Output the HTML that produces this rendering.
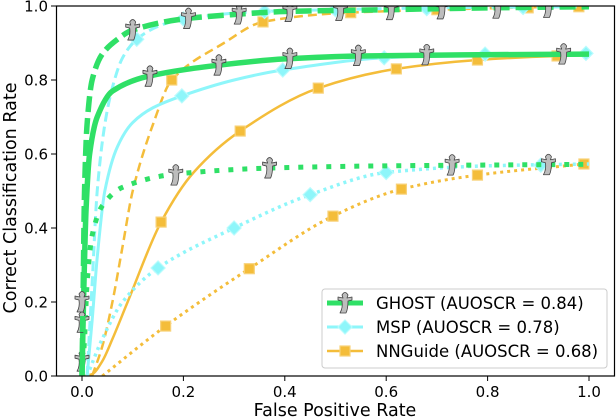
<!DOCTYPE html>
<html><head><meta charset="utf-8"><style>
body{margin:0;background:#fff;}
svg{display:block;font-family:"DejaVu Sans","Liberation Sans",sans-serif;}
</style></head><body>
<svg id="c" width="616" height="420" viewBox="0 0 616 420"></svg>
<script>
const xTicks=[0,0.2,0.4,0.6,0.8,1.0];
const yTicks=[0,0.2,0.4,0.6,0.8,1.0];
// GHOST
const ghostDashX=[0,0.002,0.005,0.01,0.02,0.04,0.07,0.1,0.2,0.3,0.4,0.6,0.8,1];
const ghostDashY=[0,0.2,0.5,0.68,0.8,0.87,0.91,0.935,0.965,0.977,0.985,0.99,0.995,0.998];
const ghostDashMX=[0,0.1,0.21,0.31,0.41,0.51,0.61,0.71,0.82,0.92];
const ghostDashMY=[0.2,0.935,0.966,0.978,0.985,0.988,0.99,0.992,0.994,0.996];
const ghostSolidX=[0,0.003,0.008,0.015,0.03,0.06,0.13,0.27,0.4,0.55,0.75,1];
const ghostSolidY=[0,0.2,0.45,0.6,0.7,0.77,0.81,0.84,0.857,0.865,0.868,0.87];
const ghostSolidMX=[0,0.134,0.27,0.41,0.545,0.68,0.95];
const ghostSolidMY=[0.145,0.81,0.84,0.858,0.866,0.868,0.87];
const ghostDotX=[0,0.005,0.01,0.02,0.04,0.08,0.18,0.37,0.6,1];
const ghostDotY=[0,0.1,0.25,0.38,0.46,0.51,0.545,0.562,0.568,0.572];
const ghostDotMX=[0,0.185,0.37,0.73,0.92];
const ghostDotMY=[0.04,0.543,0.562,0.57,0.571];
// MSP
const mspDashX=[0.01,0.02,0.03,0.045,0.06,0.08,0.108,0.15,0.2,0.35,0.5,0.7,1];
const mspDashY=[0,0.25,0.5,0.68,0.78,0.86,0.91,0.945,0.965,0.985,0.99,0.995,0.998];
const mspDashMX=[0.108,0.2,0.36,0.5,0.68,0.87];
const mspDashMY=[0.91,0.965,0.985,0.99,0.993,0.996];
const mspSolidX=[0.01,0.02,0.03,0.045,0.07,0.1,0.14,0.197,0.3,0.396,0.596,0.795,1];
const mspSolidY=[0,0.15,0.32,0.5,0.62,0.685,0.725,0.757,0.8,0.827,0.86,0.87,0.872];
const mspSolidMX=[0.197,0.396,0.596,0.795,0.994];
const mspSolidMY=[0.757,0.827,0.86,0.87,0.872];
const mspDotX=[0.01,0.04,0.08,0.15,0.3,0.45,0.6,0.8,1];
const mspDotY=[0,0.1,0.2,0.292,0.4,0.49,0.55,0.568,0.573];
const mspDotMX=[0.15,0.3,0.45,0.6,0.905];
const mspDotMY=[0.292,0.4,0.49,0.55,0.57];
// NNGuide
const nnDashX=[0.02,0.04,0.06,0.08,0.1,0.14,0.177,0.28,0.357,0.5,0.7,1];
const nnDashY=[0,0.08,0.2,0.35,0.5,0.68,0.8,0.9,0.957,0.98,0.99,1.0];
const nnDashMX=[0.177,0.357,0.53,0.7,0.88,0.98];
const nnDashMY=[0.8,0.957,0.982,0.99,0.995,0.998];
const nnSolidX=[0.005,0.02,0.04,0.06,0.09,0.156,0.22,0.312,0.466,0.62,0.78,0.937,1];
const nnSolidY=[0,0.005,0.04,0.1,0.2,0.416,0.55,0.662,0.778,0.83,0.854,0.865,0.867];
const nnSolidMX=[0.156,0.312,0.466,0.62,0.78,0.937];
const nnSolidMY=[0.416,0.662,0.778,0.83,0.854,0.865];
const nnDotX=[0.04,0.165,0.33,0.495,0.63,0.78,0.99];
const nnDotY=[0,0.135,0.29,0.432,0.505,0.543,0.573];
const nnDotMX=[0.165,0.33,0.495,0.63,0.78,0.99];
const nnDotMY=[0.135,0.29,0.432,0.505,0.543,0.573];

const NS="http://www.w3.org/2000/svg";
const svg=document.getElementById('c');
const X=v=>82+v*507, Y=v=>376-v*370;
function mk(tag,attrs,parent){const e=document.createElementNS(NS,tag);for(const k in attrs)e.setAttribute(k,attrs[k]);(parent||svg).appendChild(e);return e;}
const clip=mk('clipPath',{id:'pc'});mk('rect',{x:56,y:6,width:559,height:370},clip);
const plot=mk('g',{'clip-path':'url(#pc)'});


const G='#2fe066',C='#8ef6fa',O='#f4bd3a';
function monoPath(xs,ys){
  const px=xs.map(X),py=ys.map(Y),n=px.length;
  const d=[],m=new Array(n);
  for(let i=0;i<n-1;i++)d.push((py[i+1]-py[i])/(px[i+1]-px[i]));
  m[0]=d[0];m[n-1]=d[n-2];
  for(let i=1;i<n-1;i++){m[i]=(d[i-1]*d[i]<=0)?0:2/(1/d[i-1]+1/d[i]);}
  let s=`M${px[0]},${py[0]}`;
  for(let i=0;i<n-1;i++){const h=px[i+1]-px[i];
    s+=` C${px[i]+h/3},${py[i]+m[i]*h/3} ${px[i+1]-h/3},${py[i+1]-m[i+1]*h/3} ${px[i+1]},${py[i+1]}`;}
  return s;
}
function line(xs,ys,color,w,dash,name,cap){
  const p=mk('path',{d:monoPath(xs,ys),fill:'none',stroke:color,'stroke-width':w,'stroke-dasharray':dash,'stroke-linecap':cap||'butt'},plot);
  
  
}
function ghost(cx,cy,parent,name){
  const g=mk('path',{d:`M${cx-3},${cy-8} Q${cx},${cy-13} ${cx+3},${cy-8} L${cx+2},${cy-5} L${cx+7},${cy-6} L${cx+7},${cy-3} L${cx+3},${cy-2} Q${cx+3},${cy+6} ${cx+1},${cy+10} L${cx-5},${cy+10} Q${cx-2},${cy+5} ${cx-3},${cy-2} L${cx-7},${cy-3} L${cx-7},${cy-6} L${cx-2},${cy-5} Z`,fill:'#bdbdbd',stroke:'#444','stroke-width':0.8,'stroke-linejoin':'round'},parent||plot);
  
  
}
function diamond(cx,cy,parent,name){
  const d=mk('path',{d:`M${cx},${cy-7} L${cx+7},${cy} L${cx},${cy+7} L${cx-7},${cy}Z`,fill:C,stroke:'#b8fbfd','stroke-width':1.2},parent||plot);
  
  
}
function square(cx,cy,parent,name){
  const s=mk('rect',{x:cx-5,y:cy-5,width:10,height:10,fill:O,stroke:'#f8d27a','stroke-width':1.2},parent||plot);
  
  
}
function marks(xs,ys,fn,name){xs.forEach((x,i)=>fn(X(x),Y(ys[i]),plot,name));}
line(nnDotX,nnDotY,O,3,'3 4','nnguide-dotted-line');marks(nnDotMX,nnDotMY,square,'nnguide-dotted-marker');
line(nnSolidX,nnSolidY,O,2.5,'','nnguide-solid-line');marks(nnSolidMX,nnSolidMY,square,'nnguide-solid-marker');
line(nnDashX,nnDashY,O,2.5,'9 5','nnguide-dashed-line');marks(nnDashMX,nnDashMY,square,'nnguide-dashed-marker');
line(mspDotX,mspDotY,C,3.5,'3 4','msp-dotted-line');marks(mspDotMX,mspDotMY,diamond,'msp-dotted-marker');
line(mspSolidX,mspSolidY,C,3,'','msp-solid-line');marks(mspSolidMX,mspSolidMY,diamond,'msp-solid-marker');
line(mspDashX,mspDashY,C,3,'10 5','msp-dashed-line');marks(mspDashMX,mspDashMY,diamond,'msp-dashed-marker');
line(ghostDotX,ghostDotY,G,5,'5 9','ghost-dotted-line');marks(ghostDotMX,ghostDotMY,ghost,'ghost-dotted-marker');
line(ghostSolidX,ghostSolidY,G,5.5,'','ghost-solid-line');marks(ghostSolidMX,ghostSolidMY,ghost,'ghost-solid-marker');
line(ghostDashX,ghostDashY,G,5.5,'16 6','ghost-dashed-line');marks(ghostDashMX,ghostDashMY,ghost,'ghost-dashed-marker');
const fr=mk('rect',{x:56.5,y:6,width:558,height:370,fill:'none',stroke:'#000','stroke-width':1.2});


xTicks.forEach(t=>{
  mk('line',{x1:X(t),x2:X(t),y1:376,y2:381,stroke:'#000','stroke-width':1});
  const tx=mk('text',{x:X(t),y:397,'font-size':15,'text-anchor':'middle'});tx.textContent=t.toFixed(1);
  
  
});
yTicks.forEach(t=>{
  mk('line',{x1:51,x2:56,y1:Y(t),y2:Y(t),stroke:'#000','stroke-width':1});
  const tx=mk('text',{x:48,y:Y(t)+5.5,'font-size':15,'text-anchor':'end'});tx.textContent=t.toFixed(1);
  
  
});
const xt=mk('text',{x:335,y:416,'font-size':17.5,'text-anchor':'middle'});xt.textContent='False Positive Rate';


const yt=mk('text',{x:0,y:0,'font-size':17.5,'text-anchor':'middle',transform:'translate(16,198) rotate(-90)'});yt.textContent='Correct Classification Rate';


const lg=mk('g',{});


mk('rect',{x:322,y:289,width:285,height:79,rx:3,fill:'#fff','fill-opacity':0.85,stroke:'#ccc'},lg);
const items=[['GHOST (AUOSCR = 0.84)',G,5,ghost],['MSP (AUOSCR = 0.78)',C,3,diamond],['NNGuide (AUOSCR = 0.68)',O,2.5,square]];
items.forEach((it,i)=>{
  const y=303+i*24;
  mk('line',{x1:327,x2:363,y1:y,y2:y,stroke:it[1],'stroke-width':it[2]},lg);
  it[3](345,y,lg,'legend-marker');
  const t=mk('text',{x:376,y:y+6,'font-size':16.5},lg);t.textContent=it[0];
  
  
});
</script>
</body></html>
